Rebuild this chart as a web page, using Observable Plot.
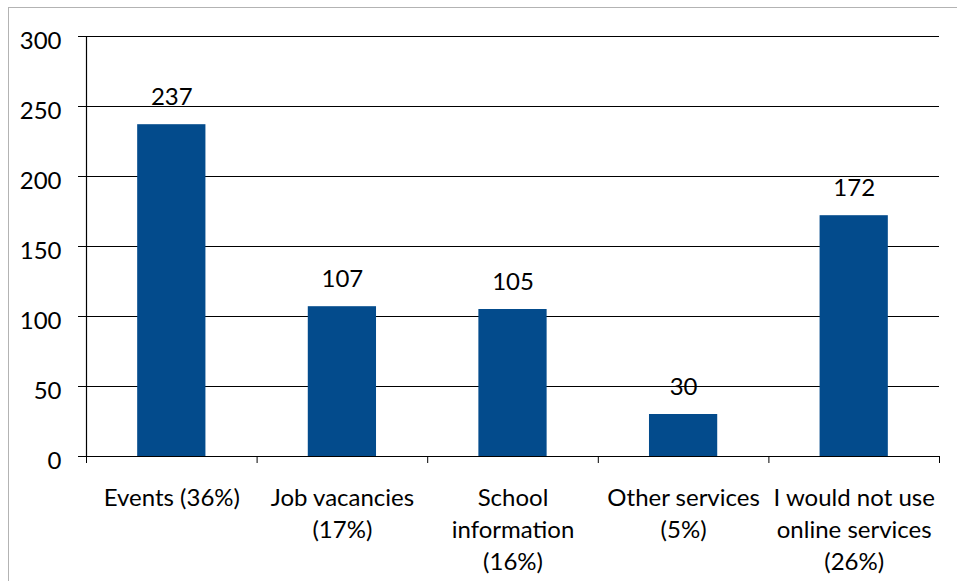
<!DOCTYPE html>
<html>
<head>
<meta charset="utf-8">
<script src="https://cdn.jsdelivr.net/npm/d3@7"></script>
<script src="https://cdn.jsdelivr.net/npm/@observablehq/plot@0.6"></script>
<style>
  html, body { margin: 0; padding: 0; background: #fff; }
  #wrap { position: relative; width: 957px; height: 581px; overflow: hidden; }
  #frame { position: absolute; left: 8px; top: 7px; width: 980px; height: 620px;
           border: 1.5px solid #b3b3b3; pointer-events: none; box-sizing: border-box; }
</style>
</head>
<body>
<div id="wrap"><div id="frame"></div></div>
<script>
// Preferred online services (survey responses)
const categories = [
  "Events (36%)",
  "Job vacancies\n(17%)",
  "School\ninformation\n(16%)",
  "Other services\n(5%)",
  "I would not use\nonline services\n(26%)"
];
const counts = [237, 107, 105, 30, 172];
const yTicks = [0, 50, 100, 150, 200, 250, 300];

const rows = categories.map((c, i) => ({ i, category: c, count: counts[i] }));
const boundaries = d3.range(categories.length + 1);
const font = "Lato, 'Open Sans', sans-serif";

const chart = Plot.plot({
  width: 957,
  height: 581,
  marginLeft: 86,
  marginRight: 18,
  marginTop: 36,
  marginBottom: 125,
  style: { fontFamily: font, fontSize: "24px", color: "#000", background: "transparent" },
  x: {
    type: "linear", domain: [0, categories.length],
    ticks: boundaries, tickSize: 7, tickFormat: () => "", label: null
  },
  y: { type: "linear", domain: [0, 300], axis: null },
  marks: [
    // horizontal gridlines, extended left as ticks
    Plot.ruleY(yTicks, { y: d => d, stroke: "#000", strokeWidth: 1.2, insetLeft: -8 }),
    // y axis line
    Plot.ruleX([0], { y1: 0, y2: 300, stroke: "#000", strokeWidth: 1.2 }),
    Plot.rectY(rows, { x1: d => d.i + 0.3, x2: d => d.i + 0.7, y1: 0, y2: d => d.count, fill: "#034b8c" }),
    // y tick labels
    Plot.text(yTicks, { x: 0, y: d => d, text: d => String(d), textAnchor: "end", dx: -25, dy: 5, fontSize: 24, fill: "#000" }),
    // value labels
    Plot.text(rows, { x: d => d.i + 0.5, y: d => d.count, text: d => String(d.count), lineAnchor: "bottom", dy: -20, fontSize: 24, fill: "#000" }),
    // category labels
    Plot.text(rows, { x: d => d.i + 0.5, y: 0, text: d => d.category, lineAnchor: "top", dy: 27, lineHeight: 1.33, fontSize: 24, fill: "#000" })
  ]
});

document.getElementById("wrap").insertBefore(chart, document.getElementById("frame"));
</script>
</body>
</html>
